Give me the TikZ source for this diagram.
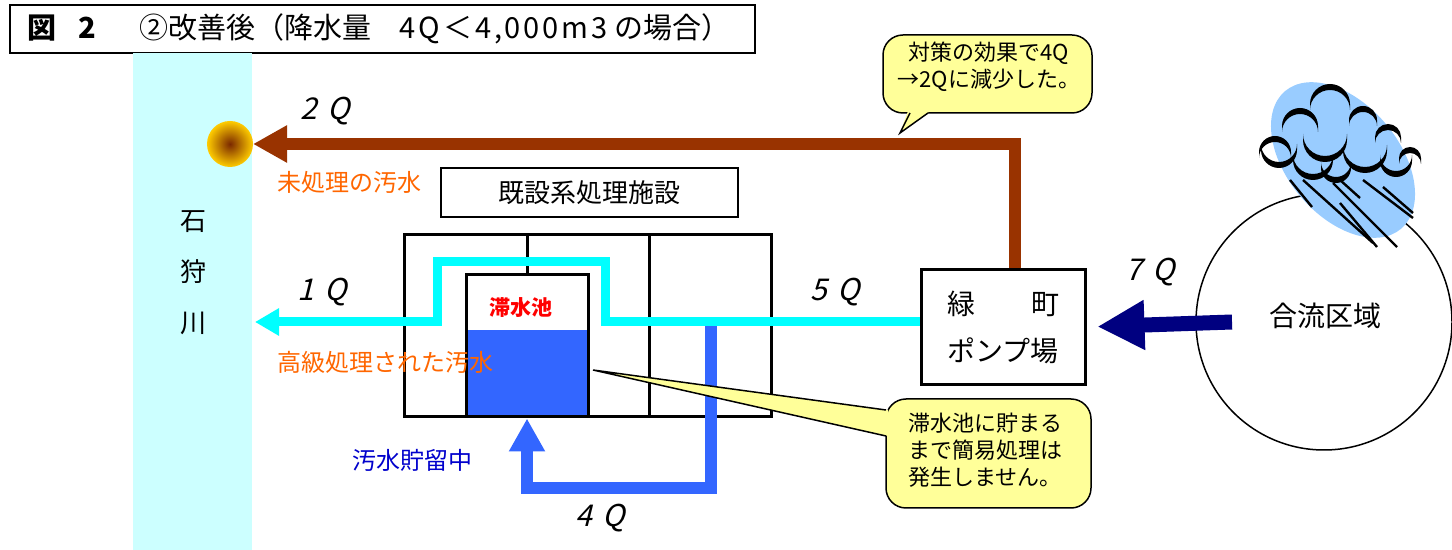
\documentclass[tikz,border=0pt]{standalone}
\usepackage{fontspec}
\setmainfont{Noto Sans CJK JP}
\newfontfamily\qfont[FakeSlant=0.25]{Noto Sans CJK JP}
\usepackage{tikz}
\usetikzlibrary{arrows.meta}
\definecolor{river}{RGB}{204,255,255}
\definecolor{rawflow}{RGB}{153,51,0}
\definecolor{treated}{RGB}{0,255,255}
\definecolor{stored}{RGB}{51,102,255}
\definecolor{inflow}{RGB}{0,0,128}
\definecolor{notefill}{RGB}{255,255,153}
\definecolor{tagorange}{RGB}{255,102,0}
\definecolor{tagblue}{RGB}{0,0,204}
\definecolor{rainblue}{RGB}{153,204,255}

\begin{document}
\begin{tikzpicture}[x=0.5pt,y=-0.5pt,
    box/.style={draw,line width=1.5pt},
    flowlbl/.style={font=\qfont\fontsize{15}{15}\selectfont},
    tag/.style={font=\fontsize{12}{12}\selectfont},
    note/.style={fill=notefill,draw,line width=0.75pt},
    notetext/.style={font=\fontsize{11}{13.5}\selectfont,align=left}]
\useasboundingbox (0,0) rectangle (1452,550);

% title
\draw[line width=0.6pt] (10,5) rectangle (755,53);
\node[anchor=west,font=\fontsize{14.5}{14.5}\selectfont] (title) at (20,29)
  {\textbf{図\hspace{11pt}2}\hspace{22pt}②改善後（降水量\hspace{14pt}{\addfontfeature{LetterSpace=10}4Q＜4,000m3} の場合）};

% river
\fill[river] (133,53) rectangle (252,550);
\node[font=\fontsize{13}{25.5}\selectfont,align=center] (ishikari) at (193,273) {石\\狩\\川};
\node[circle,minimum size=23pt,inner sep=0pt,outer sep=0pt,
      inner color=rawflow!80!black,outer color=orange!40!yellow] (sun) at (230,144) {};
\coordinate (clean) at (255,322);

% treatment plant
\node[draw,line width=0.75pt,minimum width=148.5pt,minimum height=24.5pt,
      font=\fontsize{13}{13}\selectfont] (plant) at (589.5,192.5) {既設系処理施設};
\draw[box] (404,235) rectangle (771,417);
\draw[box] (649,235) -- (649,417);
\draw[box] (527,235) -- (527,275);
\fill[stored] (466,330) rectangle (588,417);
\node[box,minimum width=61pt,minimum height=71pt,inner sep=0pt] (tank) at (527,346) {};
\node[text=red,font=\bfseries\fontsize{10.5}{10.5}\selectfont] (tanklbl) at (521,308) {滞水池};

% pump station and catchment
\node[box,minimum width=82pt,minimum height=57.5pt,align=center,
      font=\fontsize{14}{23.5}\selectfont] (pump) at (1003,327) {緑　　町\\ポンプ場};
\draw[line width=0.75pt] (1324,322) circle (128);
\node[font=\fontsize{14}{14}\selectfont] (area) at (1325,316) {合流区域};
\coordinate (rain) at (1232,322);

% cloud
\fill[rainblue,rotate around={-50:(1343,160)}] (1343,160) ellipse [x radius=90,y radius=56];
\foreach \cx/\cy/\r in {1275/152/16,1300/126/18,1330/104/20,1363/120/14,1388/137/13,1410/158/11}
  \fill (\cx,\cy) ++(180:\r) arc[start angle=180,end angle=360,radius=\r]
        -- ++(0,6) arc[start angle=360,end angle=180,radius=\r] -- cycle;
\foreach \cx/\cy/\r in {1325/140/22,1365/151/22,1279/150/18,1313/160/20,1396/161/16,1336/168/15}
  \fill (\cx,\cy) ++(0:\r) arc[start angle=0,end angle=180,radius=\r]
        -- ++(0,-6) arc[start angle=180,end angle=0,radius=\r] -- cycle;
\foreach \ax/\ay/\bx/\by in {1290/180/1312/207,1303/180/1373/243,1333/183/1397/247,
                             1340/203/1377/247,1363/180/1413/218,1383/187/1413/213,1340/180/1360/198}
  \draw[line width=1.2pt] (\ax,\ay) -- (\bx,\by);

% flows
\draw[stored,line width=6pt,-{Triangle[length=16.5pt,width=17pt]}] (711,322) |- (527,488) -- (tank.south);
\draw[treated,line width=4.5pt,-{Triangle[length=12pt,width=13pt]}]
  ([yshift=2.75pt]pump.west) -| (605,262) -| (437,322) -- (clean);
\draw[rawflow,line width=6pt,-{Triangle[length=17pt,width=17.5pt]}] ([xshift=6pt]pump.north) |- (sun.east);
\draw[inflow,line width=7.5pt,-{Triangle[length=23.5pt,width=23.5pt]},shorten >=5.5pt] (rain) -- (pump.east);

% flow labels
\node[flowlbl] (q2) at (325,111) {2\hspace{5pt}Q};
\node[flowlbl] (q1) at (322,292) {1\hspace{5pt}Q};
\node[flowlbl] (q5) at (835,292) {5\hspace{5pt}Q};
\node[flowlbl] (q4) at (600,518) {4\hspace{5pt}Q};
\node[flowlbl] (q7) at (1150,272) {7\hspace{5pt}Q};
\node[tag,text=tagorange] (rawlbl) at (349,182) {未処理の汚水};
\node[tag,text=tagorange] (cleanlbl) at (385,362) {高級処理された汚水};
\node[tag,text=tagblue] (storelbl) at (412,460) {汚水貯留中};

% notes
\draw[note,rounded corners=10pt] (883,35) rectangle (1092,113);
\fill[notefill] (908,111) -- (900,133) -- (930,111) -- cycle;
\draw[line width=0.75pt] (910,113) -- (900,133) -- (928,113);
\node[notetext,align=center] (effect) at (989,67) {対策の効果で4Q\\→2Qに減少した。};

\draw[note,rounded corners=10pt] (886,399) rectangle (1091,508);
\fill[notefill] (888,410) -- (593,370) -- (888,436) -- cycle;
\draw[line width=0.75pt] (886,410) -- (593,370) -- (886,436);
\node[notetext] (holdnote) at (985,450) {滞水池に貯まる\\まで簡易処理は\\発生しません。};
\end{tikzpicture}
\end{document}
